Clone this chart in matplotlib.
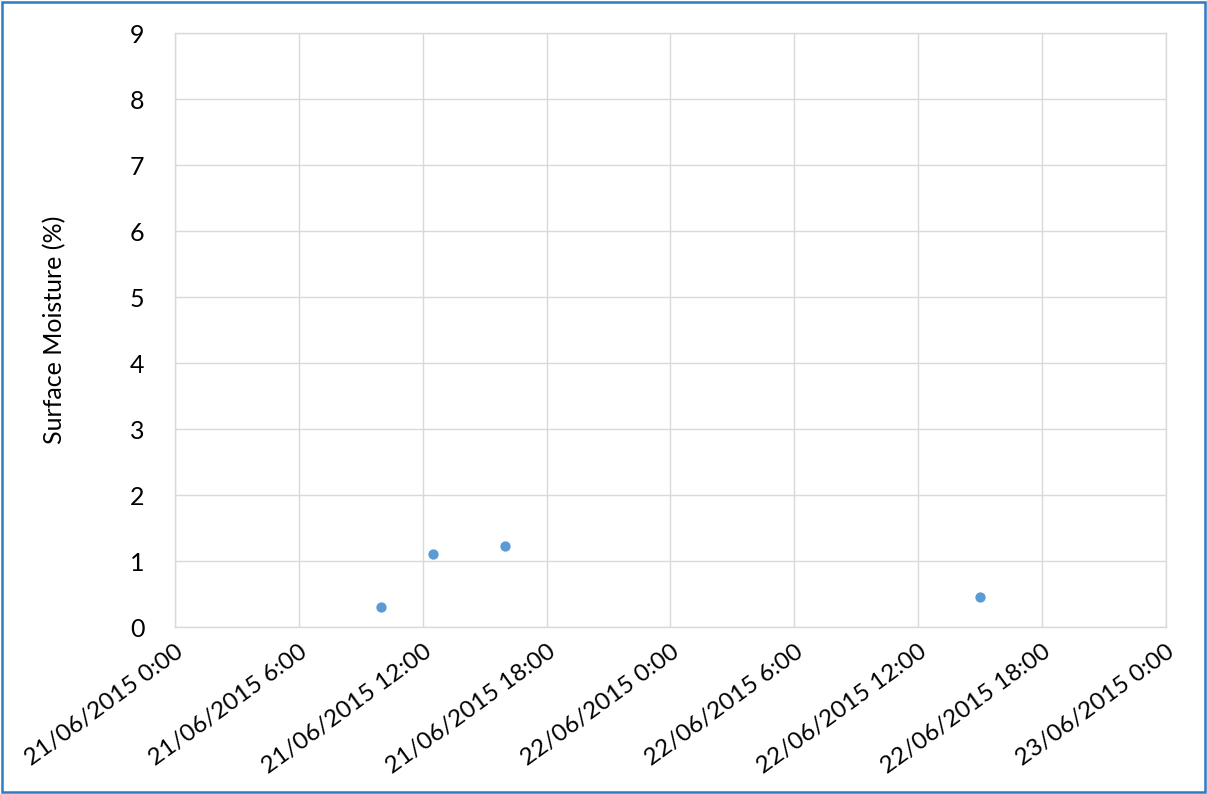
import matplotlib
matplotlib.use("Agg")
import matplotlib.pyplot as plt
from matplotlib.patches import Rectangle
from datetime import datetime, timedelta

# Surface moisture readings
times = [
    datetime(2015, 6, 21, 10, 0),
    datetime(2015, 6, 21, 12, 30),
    datetime(2015, 6, 21, 16, 0),
    datetime(2015, 6, 22, 15, 0),
]
moisture = [0.30, 1.11, 1.23, 0.46]

x_start = datetime(2015, 6, 21, 0, 0)
x_end = datetime(2015, 6, 23, 0, 0)
tick_times = [x_start + timedelta(hours=6 * i) for i in range(9)]
tick_labels = [f"{t.day:02d}/{t.month:02d}/{t.year} {t.hour}:00" for t in tick_times]
y_ticks = list(range(0, 10))

plt.rcParams['font.family'] = ['Lato', 'DejaVu Sans']
FS = 18

fig = plt.figure(figsize=(12.07, 7.94), dpi=100)
ax = fig.add_axes([0.145, 0.2103, 0.821, 0.7481])

ax.scatter(times, moisture, s=55, color="#5B9BD5", zorder=3, linewidths=0)

ax.set_xlim(x_start, x_end)
ax.set_ylim(0, 9)
ax.set_xticks(tick_times)
ax.set_xticklabels(tick_labels, rotation=36, ha="right", va="top",
                   rotation_mode="anchor", fontsize=17.5)
ax.set_yticks(y_ticks)
ax.tick_params(axis="y", labelsize=FS)
ax.tick_params(axis="both", length=0, colors="black")
ax.tick_params(axis="x", pad=10)
ax.tick_params(axis="y", pad=22)

ax.grid(True, color="#D9D9D9", linewidth=1)
ax.set_axisbelow(True)
for s in ax.spines.values():
    s.set_color("#D9D9D9")
    s.set_linewidth(1)

ax.set_ylabel("Surface Moisture (%)", fontsize=FS, labelpad=46)

# outer chart border
fig.patches.append(Rectangle((0.0015, 0.002), 0.997, 0.996, transform=fig.transFigure,
                             fill=False, edgecolor="#2E7BC4", linewidth=1.8))

fig.savefig("out.png", dpi=100, facecolor="white")
